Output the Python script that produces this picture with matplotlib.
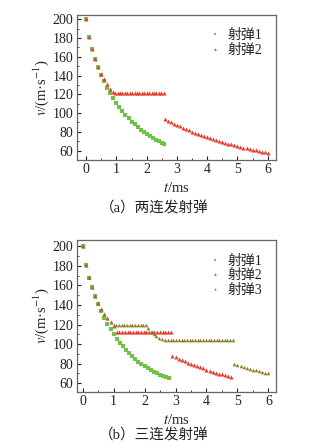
import numpy as np
import matplotlib
matplotlib.use("Agg")
import matplotlib.pyplot as plt
from matplotlib.ticker import MultipleLocator

plt.rcParams['font.family'] = ['Liberation Serif', 'Noto Sans CJK SC']
plt.rcParams['mathtext.fontset'] = 'stix'

# ---- (a) two-round burst ----
t1a = [0.0, 0.1, 0.2, 0.3, 0.4, 0.5, 0.6, 0.7, 0.8, 0.9, 1.0, 1.1, 1.2, 1.3,
       1.4, 1.5, 1.6, 1.7, 1.8, 1.9, 2.0, 2.1, 2.2, 2.3, 2.4, 2.5, 2.56]
v1a = [200, 181, 168, 158, 149, 141, 134, 127, 121, 116, 111, 106.5, 102, 98,
       94.5, 91, 88, 85, 82, 80, 77.5, 75.5, 73.5, 71.5, 70, 68, 66.5]

t2a = [0.0, 0.1, 0.2, 0.3, 0.4, 0.5, 0.6, 0.7, 0.8, 0.9,
       0.96, 1.04, 1.12, 1.2, 1.28, 1.36, 1.44, 1.52, 1.6, 1.68, 1.76,
       1.84, 1.92, 2.0, 2.08, 2.16, 2.24, 2.32, 2.4, 2.48, 2.56,
       2.6, 2.7, 2.8, 2.9, 3.0, 3.1, 3.2, 3.3, 3.4, 3.5, 3.6, 3.7, 3.8,
       3.9, 4.0, 4.1, 4.2, 4.3, 4.4, 4.5, 4.6, 4.7, 4.8, 4.9, 5.0, 5.1,
       5.2, 5.3, 5.4, 5.5, 5.6, 5.7, 5.8, 5.9, 6.0]
v2a = [200, 181, 168.5, 158, 149.5, 142, 136, 131, 126, 122.5,
       121.3, 121.3, 121.3, 121.3, 121.3, 121.3, 121.3, 121.3, 121.3, 121.3,
       121.3, 121.3, 121.3, 121.3, 121.3, 121.3, 121.3, 121.3, 121.3, 121.3,
       121.3,
       93.6, 91.9, 90.3, 88.7, 87.2, 85.7, 84.2, 82.9, 81.5, 80.2, 79.0,
       77.8, 76.6, 75.5, 74.3, 73.3, 72.2, 71.2, 70.2, 69.3, 68.3, 67.4,
       66.5, 65.7, 64.8, 64.0, 63.2, 62.4, 61.7, 60.9, 60.2, 59.5, 58.8,
       58.1, 57.5]

# ---- (b) three-round burst ----
t1b = [0.0, 0.1, 0.2, 0.3, 0.4, 0.5, 0.6, 0.7, 0.8, 0.9, 1.0, 1.1, 1.2, 1.3,
       1.4, 1.5, 1.6, 1.7, 1.8, 1.9, 2.0, 2.1, 2.2, 2.3, 2.4, 2.5, 2.6, 2.7,
       2.8]
v1b = [200, 181, 168, 158, 149, 141, 134, 127, 121, 115.5, 110.5, 105.5,
       101.5, 97.5, 94, 90.5, 87.5, 84.5, 82, 79.5, 77.5, 75, 73, 71.5, 70,
       68.5, 67.5, 66.5, 65.5]

t2b = [0.0, 0.1, 0.2, 0.3, 0.4, 0.5, 0.6, 0.7, 0.8, 0.9, 1.02,
       1.1, 1.19, 1.27, 1.36, 1.45, 1.53, 1.62, 1.71, 1.8, 1.88, 1.97,
       2.06, 2.14, 2.23, 2.32, 2.4, 2.49, 2.58, 2.67, 2.75, 2.84,
       2.9, 3.0, 3.1, 3.2, 3.3, 3.4, 3.5, 3.6, 3.7, 3.8, 3.9, 4.0, 4.1,
       4.2, 4.3, 4.4, 4.5, 4.6, 4.7, 4.8]
v2b = [200, 181, 168.5, 158, 149.5, 142, 136, 130.6, 126.5, 122.7, 118.3,
       112.1, 112.1, 112.1, 112.1, 112.1, 112.1, 112.1, 112.1, 112.1, 112.1,
       112.1, 112.1, 112.1, 112.1, 112.1, 112.1, 112.1, 112.1, 112.1, 112.1,
       112.1,
       88.0, 86.5, 85.0, 83.6, 82.2, 80.9, 79.6, 78.4, 77.2, 76.0, 74.9,
       73.8, 72.7, 71.7, 70.7, 69.7, 68.8, 67.8, 66.9, 66.0]

t3b = [0.0, 0.1, 0.2, 0.3, 0.4, 0.5, 0.6, 0.7, 0.8, 0.9,
       1.0, 1.09, 1.17, 1.26, 1.35, 1.44, 1.52, 1.61, 1.7, 1.78, 1.87, 1.96,
       2.04, 2.12, 2.2, 2.29, 2.38, 2.48, 2.57, 2.67,
       2.76, 2.85, 2.93, 3.02, 3.11, 3.2, 3.28, 3.37, 3.46, 3.54, 3.63,
       3.72, 3.8, 3.89, 3.98, 4.07, 4.15, 4.24, 4.33, 4.41, 4.5, 4.59,
       4.67, 4.76, 4.85,
       4.9, 5.0, 5.1, 5.2, 5.3, 5.4, 5.5, 5.6, 5.7, 5.8, 5.9, 6.0]
v3b = [200, 181, 168.5, 158, 149.5, 142, 136, 130.6, 126.5, 122.7,
       119, 119, 119, 119, 119, 119, 119, 119, 119, 119, 119, 119, 119,
       116, 112.5, 110.5, 108, 106.3, 105.2, 104.6,
       104.2, 104.2, 104.2, 104.2, 104.2, 104.2, 104.2, 104.2, 104.2, 104.2,
       104.2, 104.2, 104.2, 104.2, 104.2, 104.2, 104.2, 104.2, 104.2, 104.2,
       104.2, 104.2, 104.2, 104.2, 104.2,
       79.0, 78.1, 77.2, 76.3, 75.5, 74.6, 73.8, 73.0, 72.2, 71.5, 70.7, 70.0]

labels = ['射弹1', '射弹2', '射弹3']
c_green = '#6dc34a'
c_red = '#e83a2c'
c_olive = '#8e7d2c'
c_text = '#222222'

fig = plt.figure(figsize=(3.28, 4.48), dpi=100)
ax1 = fig.add_axes([0.235, 0.643, 0.606, 0.3235])
ax2 = fig.add_axes([0.235, 0.125, 0.606, 0.339])

ax1.plot(t1a, v1a, 's', color=c_green, ms=2.4, mew=0, label=labels[0])
ax1.plot(t2a, v2a, '^', color=c_red, ms=2.9, mew=0, label=labels[1])
ax1.set_xlim(-0.3, 6.27)
ax1.set_ylim(50, 204.6)

ax2.plot(t1b, v1b, 's', color=c_green, ms=2.4, mew=0, label=labels[0])
ax2.plot(t2b, v2b, '^', color=c_red, ms=2.9, mew=0, label=labels[1])
ax2.plot(t3b, v3b, '^', color=c_olive, ms=2.6, mew=0, label=labels[2])
ax2.set_xlim(-0.18, 6.24)
ax2.set_ylim(50.8, 206.5)

for ax in (ax1, ax2):
    ax.xaxis.set_major_locator(MultipleLocator(1))
    ax.xaxis.set_minor_locator(MultipleLocator(0.5))
    ax.yaxis.set_major_locator(MultipleLocator(20))
    ax.yaxis.set_minor_locator(MultipleLocator(10))
    ax.tick_params(which='both', direction='in', labelsize=10, colors=c_text,
                   top=False, right=False, pad=2.5)
    ax.tick_params(which='major', length=3, width=0.8)
    ax.tick_params(which='minor', length=1.6, width=0.6)
    for s in ax.spines.values():
        s.set_color('#666666')
        s.set_linewidth(0.9)
    ax.set_ylabel(r'$v$/(m·s$^{-1}$)', fontsize=10.5, labelpad=1, color=c_text)
    ax.set_xlabel(r'$t$/ms', fontsize=10.5, labelpad=3, color=c_text)
    ax.legend(loc='upper left', bbox_to_anchor=(0.63, 0.95), frameon=False,
              fontsize=10, handlelength=0.8, handletextpad=0.5,
              labelspacing=0.1, borderpad=0, markerscale=0.65,
              labelcolor=c_text)

fig.text(0.47, 0.535, '（a）两连发射弹', ha='center', va='center',
         fontsize=10.5, color=c_text)
fig.text(0.47, 0.029, '（b）三连发射弹', ha='center', va='center',
         fontsize=10.5, color=c_text)

fig.savefig('out.png', dpi=100)
